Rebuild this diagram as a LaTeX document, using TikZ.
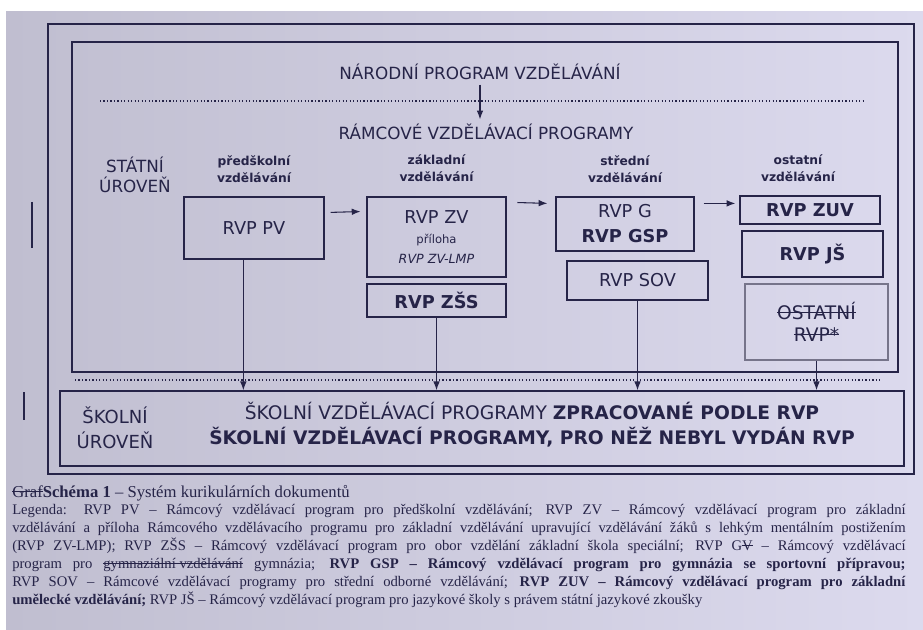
\documentclass[tikz,border=0pt]{standalone}
\usepackage{fontspec}
\setmainfont{Liberation Serif}
\newfontfamily\dv{DejaVu Sans}
\usepackage{xcolor}
\usetikzlibrary{arrows.meta,positioning,calc}
\definecolor{ink}{RGB}{38,36,72}
\definecolor{paperL}{RGB}{192,190,208}
\definecolor{paperR}{RGB}{220,218,238}
\definecolor{edge}{RGB}{118,116,138}
\newcommand{\strk}[2][0.3em]{\leavevmode\setbox0\hbox{#2}\rlap{\raisebox{#1}{\rule{\wd0}{0.75pt}}}\box0\relax}

\begin{document}
\begin{tikzpicture}[x=0.75pt,y=-0.75pt,>=Latex,
  fr/.style={draw=ink,line width=1.1pt,inner sep=0pt},
  bx/.style={draw=ink,line width=0.9pt,inner sep=0pt,text=ink,align=center,font=\dv\fontsize{13.3}{15}\selectfont},
  ar/.style={->,line width=0.8pt,draw=ink},
  hd/.style={text=ink,align=center,inner sep=1pt,font=\dv\bfseries\fontsize{9.2}{12.75}\selectfont},
  lab/.style={text=ink,align=center,font=\dv\fontsize{12.6}{15}\selectfont},
  dots/.style={draw=ink,line width=1.3pt,dash pattern=on 0.9pt off 1.7pt}]
\useasboundingbox (0,0) rectangle (923,630);
\fill[white] (0,0) rectangle (923,630);
\shade[left color=paperL,right color=paperR] (6,12) rectangle (923,630);
% frames
\draw[fr] (48,24) rectangle (914,474);
\draw[fr] (72,42) rectangle (898,372);
\node[fr,minimum width=633pt,minimum height=56.25pt] (sch) at (482,428.5) {};
\draw[dots] (100,101) -- (866,101);
\draw[dots] (75,380) -- (882,380);
\draw[ink,line width=1pt] (32,202) -- (32,248);
\draw[ink,line width=1pt] (24,392) -- (24,420);
% state level
\node[lab] (nar) at (480,72) {NÁRODNÍ PROGRAM VZDĚLÁVÁNÍ};
\node[lab] (ram) at (486,132) {RÁMCOVÉ VZDĚLÁVACÍ PROGRAMY};
\draw[ar] (nar.south) -- (nar.south |- ram.north);
\node[lab] (stat) at (135,175) {STÁTNÍ\\ÚROVEŇ};
\node[bx,minimum width=105pt,minimum height=46.5pt] (pv) at (254,228) {RVP PV};
\node[bx,line width=2.2pt,minimum width=104.25pt,minimum height=60pt] (zv) at (436.5,237)
  {RVP ZV\\{\fontsize{8.7}{10}\selectfont příloha}\\{\itshape\fontsize{9.5}{11}\selectfont RVP ZV-LMP}};
\node[bx,minimum width=104.25pt,minimum height=24.75pt] (zss) at (436.5,300.5) {\textbf{RVP ZŠS}};
\node[bx,minimum width=103.5pt,minimum height=40.5pt] (g) at (625,224) {RVP G\\[3.75pt]\textbf{RVP GSP}};
\node[bx,minimum width=105.75pt,minimum height=29.25pt] (sov) at (637.5,280.5) {RVP SOV};
\node[bx,minimum width=105pt,minimum height=21pt] (zuv) at (810,210) {\textbf{RVP ZUV}};
\node[bx,minimum width=105.75pt,minimum height=34.5pt] (js) at (812.5,254) {\textbf{RVP JŠ}};
\node[bx,draw=edge,minimum width=107.25pt,minimum height=57pt,font=\dv\fontsize{14}{16.5}\selectfont] (ost) at (816.5,322)
  {\strk[0.36em]{OSTATNÍ}\\\strk[0.36em]{RVP*}};
\node[hd,above=9pt of pv] {předškolní\\vzdělávání};
\node[hd,above=9pt of zv] {základní\\vzdělávání};
\node[hd,above=9pt of g] {střední\\vzdělávání};
\node[hd,above=9pt of zuv,xshift=-9pt] {ostatní\\vzdělávání};
\draw[ar] ([shift={(6,16)}]pv.north east) -- ([shift={(-5,16)}]zv.north west);
\draw[ar] ([shift={(10,7)}]zv.north east) -- ([shift={(-8,7)}]g.north west);
\draw[ar] ([shift={(9,7)}]g.north east) -- ([shift={(-4,8)}]zuv.north west);
\draw[ar] ([xshift=-8pt]pv.south) -- ([xshift=-8pt]pv.south |- sch.north);
\draw[ar] (zss.south) -- (zss.south |- sch.north);
\draw[ar] (sov.south) -- (sov.south |- sch.north);
\draw[ar] (ost.south) -- (ost.south |- sch.north);
% school level
\node[lab,font=\dv\fontsize{13.5}{18.75}\selectfont] (skol) at (115,428) {ŠKOLNÍ\\ÚROVEŇ};
\node[lab,font=\dv\fontsize{14}{18.75}\selectfont] (svp) at (532,425)
  {ŠKOLNÍ VZDĚLÁVACÍ PROGRAMY \textbf{ZPRACOVANÉ PODLE RVP}\\\textbf{ŠKOLNÍ VZDĚLÁVACÍ PROGRAMY, PRO NĚŽ NEBYL VYDÁN RVP}};
% caption
\node[anchor=base west,inner sep=0pt,text=ink,font=\fontsize{12.5}{15}\selectfont] (cap) at (12,497)
  {\strk{Graf}\textbf{Schéma 1} – Systém kurikulárních dokumentů};
\node[anchor=north west,inner sep=0pt,text=ink,text width=670pt,align=justify,font=\fontsize{11}{13.5}\selectfont] (leg) at (12,504)
  {Legenda: RVP PV – Rámcový vzdělávací program pro předškolní vzdělávání; RVP ZV – Rámcový vzdělávací program pro základní\linebreak
  vzdělávání a příloha Rámcového vzdělávacího programu pro základní vzdělávání upravující vzdělávání žáků s lehkým mentálním postižením\linebreak
  (RVP ZV-LMP); RVP ZŠS – Rámcový vzdělávací program pro obor vzdělání základní škola speciální; RVP G\strk[0.33em]{V} – Rámcový vzdělávací\linebreak
  program pro \strk{gymnaziální vzdělávání} gymnázia; \textbf{RVP GSP – Rámcový vzdělávací program pro gymnázia se sportovní přípravou;}\linebreak
  RVP SOV – Rámcové vzdělávací programy pro střední odborné vzdělávání; \textbf{RVP ZUV – Rámcový vzdělávací program pro základní}\linebreak
  \textbf{umělecké vzdělávání;} RVP JŠ – Rámcový vzdělávací program pro jazykové školy s právem státní jazykové zkoušky};
\end{tikzpicture}
\end{document}
